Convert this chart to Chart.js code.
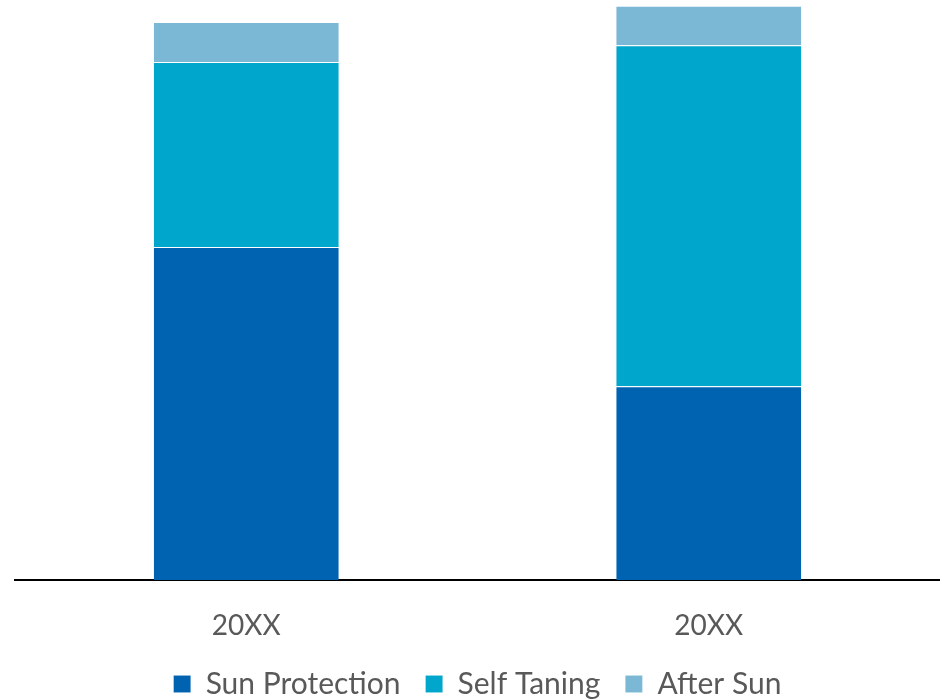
<!DOCTYPE html>
<html>
<head>
<meta charset="utf-8">
<script src="https://cdn.jsdelivr.net/npm/chart.js@4"></script>
<style>
  body { margin: 0; background: #fff; }
  #wrap { width: 940px; height: 700px; }
</style>
</head>
<body>
<div id="wrap"><canvas id="salesChart" width="940" height="700"></canvas></div>
<script>
const categories = ['20XX', '20XX'];
const sunProtection = [57.4, 33.4];
const selfTaning = [31.9, 58.8];
const afterSun = [6.9, 6.8];

const ctx = document.getElementById('salesChart').getContext('2d');

const bar = (label, data, color) => ({
  label,
  data,
  backgroundColor: color,
  borderColor: 'rgba(255,255,255,0.35)',
  borderWidth: { top: 1 },
  borderSkipped: false,
  barPercentage: 0.4,
  categoryPercentage: 1
});

const chart = new Chart(ctx, {
  type: 'bar',
  data: {
    labels: categories,
    datasets: [
      bar('Sun Protection', sunProtection, '#0063b1'),
      bar('Self Taning', selfTaning, '#00a6cb'),
      bar('After Sun', afterSun, '#7ab8d5')
    ]
  },
  options: {
    responsive: false,
    animation: false,
    layout: { padding: { left: 15, right: 0, top: 0, bottom: 0 } },
    plugins: {
      tooltip: { enabled: false },
      legend: {
        position: 'bottom',
        labels: {
          color: '#595959',
          font: { family: 'Lato', size: 30 },
          boxWidth: 17,
          boxHeight: 17,
          padding: 25
        }
      }
    },
    scales: {
      x: {
        stacked: true,
        grid: { display: false },
        border: { color: '#000', width: 2 },
        ticks: { color: '#595959', font: { family: 'Lato', size: 28 }, padding: 21 },
        afterFit(scale) { scale.height = 64; }
      },
      y: {
        stacked: true,
        display: false,
        min: 0,
        max: 100
      }
    }
  }
});

// keep the gaps between legend items but trim the legend box height
const fitLegend = chart.legend.fit;
chart.legend.fit = function () {
  fitLegend.call(this);
  this.height = 56;
};
chart.update();
</script>
</body>
</html>
